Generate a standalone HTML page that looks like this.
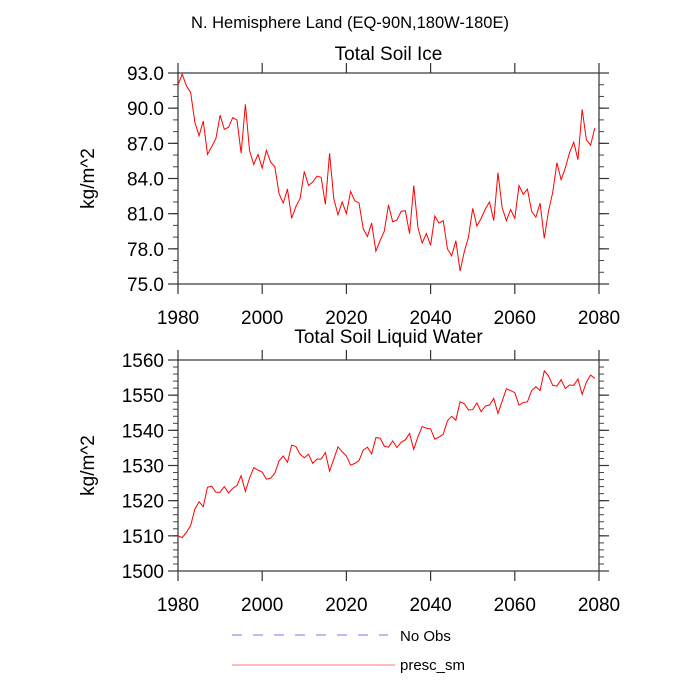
<!DOCTYPE html>
<html><head><meta charset="utf-8"><style>
html,body{margin:0;padding:0;background:#fff;}
svg{display:block;font-family:"Liberation Sans",sans-serif;}
</style></head><body>
<svg id="c" width="700" height="700" viewBox="0 0 700 700">
<text x="350" y="28" font-size="16.5" text-anchor="middle">N. Hemisphere Land (EQ-90N,180W-180E)</text>
</svg>
<script>
const years = Array.from({length:100},(_,i)=>1980+i);
const soilIce = [91.98,92.9,91.9,91.35,88.8,87.65,88.9,86.06,86.7,87.4,89.4,88.2,88.37,89.2,89.0,86.15,90.33,86.35,85.2,86.06,84.9,86.4,85.4,85.0,82.7,81.9,83.1,80.6,81.6,82.3,84.6,83.4,83.7,84.2,84.1,81.8,86.15,82.3,80.9,82.0,81.0,82.9,82.1,81.9,79.7,79.05,80.2,77.8,78.7,79.5,81.75,80.3,80.45,81.2,81.25,79.3,83.4,79.8,78.5,79.3,78.3,80.8,80.2,80.4,78.0,77.4,78.7,76.1,77.75,79.0,81.45,79.95,80.6,81.4,82.0,80.4,84.5,81.5,80.4,81.35,80.6,83.4,82.65,83.1,81.2,80.7,81.9,78.9,81.2,82.8,85.35,83.9,84.9,86.2,87.1,85.6,89.9,87.3,86.85,88.3];
const soilLiq = [1510.0,1509.5,1511.0,1512.9,1517.6,1519.7,1518.3,1523.8,1524.1,1522.4,1522.4,1524.0,1522.2,1523.5,1524.3,1527.1,1522.6,1526.4,1529.4,1528.7,1528.1,1526.1,1526.4,1527.8,1531.3,1532.7,1530.9,1535.8,1535.4,1533.2,1532.2,1533.2,1530.6,1531.8,1531.8,1533.7,1528.4,1531.8,1535.3,1533.9,1532.7,1530.1,1530.6,1531.4,1534.4,1535.2,1533.3,1537.9,1537.8,1535.5,1535.2,1537.0,1535.1,1536.6,1537.3,1539.1,1534.6,1538.2,1541.1,1540.6,1540.4,1537.5,1538.1,1538.9,1542.7,1544.0,1542.9,1548.1,1547.6,1545.8,1545.9,1547.8,1545.3,1546.9,1547.2,1549.1,1544.8,1548.3,1551.8,1551.3,1550.7,1547.2,1547.9,1548.1,1551.3,1552.4,1551.3,1556.9,1555.5,1552.8,1552.6,1554.4,1551.9,1552.9,1552.8,1554.6,1550.2,1553.7,1555.7,1554.8];
const xTicks = [1980,2000,2020,2040,2060,2080];
const iceTicks = [75,78,81,84,87,90,93];
const liqTicks = [1500,1510,1520,1530,1540,1550,1560];

const svg=document.getElementById('c');
const NS='http://www.w3.org/2000/svg';
function mk(tag,attrs,parent){const e=document.createElementNS(NS,tag);for(const k in attrs)e.setAttribute(k,attrs[k]);(parent||svg).appendChild(e);return e;}

function panel(key,title,top,titleOff,ymin,ymax,ticks,minorStep,decimals,vals){
  const L=178,R=599,T=top,B=top+211;
  const X=v=>L+(v-1980)/100*(R-L);
  const Y=v=>B-(v-ymin)/(ymax-ymin)*(B-T);
  const g=mk('g',{});
  
  
  const t=mk('text',{x:(L+R)/2,y:T-titleOff,'font-size':19,'text-anchor':'middle'},g);t.textContent=title;
  
  
  for(let v=ymin;v<=ymax+1e-9;v+=minorStep){
    const y=Y(v);
    mk('line',{x1:L-5,x2:L,y1:y,y2:y,stroke:'#444','stroke-width':1},g);
    mk('line',{x1:R,x2:R+5,y1:y,y2:y,stroke:'#444','stroke-width':1},g);
  }
  ticks.forEach(v=>{
    const y=Y(v);
    mk('line',{x1:L-10,x2:L,y1:y,y2:y,stroke:'#333','stroke-width':1.2},g);
    mk('line',{x1:R,x2:R+10,y1:y,y2:y,stroke:'#333','stroke-width':1.2},g);
    const lb=mk('text',{x:L-14,y:y+7,'font-size':19,'text-anchor':'end'},g);
    lb.textContent=v.toFixed(decimals);
    
    
  });
  xTicks.forEach(v=>{
    const x=X(v);
    mk('line',{x1:x,x2:x,y1:T-10,y2:T,stroke:'#333','stroke-width':1.2},g);
    mk('line',{x1:x,x2:x,y1:B,y2:B+10,stroke:'#333','stroke-width':1.2},g);
    const lb=mk('text',{x:x,y:B+40,'font-size':19,'text-anchor':'middle'},g);
    lb.textContent=v;
    
    
  });
  mk('rect',{x:L,y:T,width:R-L,height:B-T,fill:'none',stroke:'#333','stroke-width':1.2},g);
  const yt=mk('text',{x:0,y:0,'font-size':19,'text-anchor':'middle',transform:`translate(94,${(T+B)/2}) rotate(-90)`},g);
  yt.textContent='kg/m^2';
  
  
  const pts=vals.map((v,i)=>X(years[i]).toFixed(2)+','+Y(v).toFixed(2)).join(' ');
  const pl=mk('polyline',{points:pts,fill:'none',stroke:'#ff0000','stroke-width':1},g);
  
  
}
panel('soil-ice','Total Soil Ice',73,13,75,93,iceTicks,1,1,soilIce);
panel('soil-liquid','Total Soil Liquid Water',360,17,1500,1560,liqTicks,2,0,soilLiq);

const lg=mk('g',{});


const l1=mk('line',{x1:232,x2:388,y1:635,y2:635,stroke:'#7777ee','stroke-width':1,'stroke-dasharray':'10,11'},lg);


const t1=mk('text',{x:400,y:641,'font-size':15},lg);t1.textContent='No Obs';


const l2=mk('line',{x1:232,x2:395,y1:665,y2:665,stroke:'#ff7777','stroke-width':1},lg);


const t2=mk('text',{x:400,y:670,'font-size':15},lg);t2.textContent='presc_sm';


</script>
</body></html>
